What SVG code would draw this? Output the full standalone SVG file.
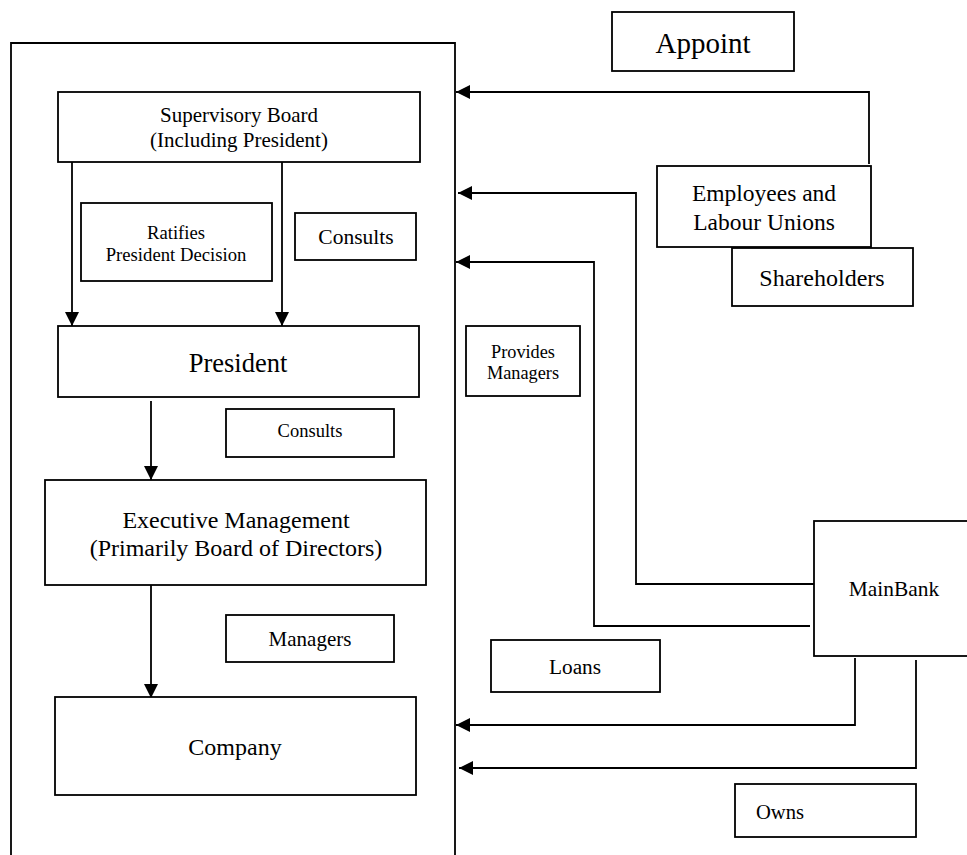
<svg xmlns="http://www.w3.org/2000/svg" width="967" height="855" viewBox="0 0 967 855">
  <style>
    .box { fill: #fff; stroke: #000; stroke-width: 1.8; }
    .frame { fill: none; stroke: #000; stroke-width: 1.8; }
    .line { fill: none; stroke: #000; stroke-width: 1.8; }
    text { font-family: "Liberation Serif", "Times New Roman", serif; fill: #000; text-anchor: middle; dominant-baseline: central; }
  </style>
  <defs>
    <marker id="arrow" viewBox="0 0 14 14" refX="14" refY="7" markerWidth="14" markerHeight="14" markerUnits="userSpaceOnUse" orient="auto">
      <path d="M0,0 L14,7 L0,14 Z" fill="#000"/>
    </marker>
  </defs>
  <rect width="967" height="855" fill="#fff"/>

  <!-- Outer corporate frame (open at bottom edge) -->
  <path class="frame" d="M11,870 V43 H455 V870"/>

  <g id="connectors">
    <line class="line" x1="72" y1="162" x2="72" y2="326" marker-end="url(#arrow)"/>
    <line class="line" x1="282" y1="162" x2="282" y2="326" marker-end="url(#arrow)"/>
    <line class="line" x1="151" y1="401" x2="151" y2="480" marker-end="url(#arrow)"/>
    <line class="line" x1="151" y1="585" x2="151" y2="698" marker-end="url(#arrow)"/>
    <polyline class="line" points="869,164 869,92 456,92" marker-end="url(#arrow)"/>
    <polyline class="line" points="816,584 636,584 636,193 458,193" marker-end="url(#arrow)"/>
    <polyline class="line" points="810,626 594,626 594,262 456,262" marker-end="url(#arrow)"/>
    <polyline class="line" points="855,658 855,725 456,725" marker-end="url(#arrow)"/>
    <polyline class="line" points="916,660 916,768 459,768" marker-end="url(#arrow)"/>
  </g>

  <g id="supervisory-board">
    <rect class="box" x="58" y="92" width="362" height="70"/>
    <text x="239" y="115" font-size="21">Supervisory Board</text>
    <text x="239" y="140" font-size="21">(Including President)</text>
  </g>
  <g id="ratifies">
    <rect class="box" x="81" y="203" width="191" height="78"/>
    <text x="176" y="232" font-size="18.7">Ratifies</text>
    <text x="176" y="254" font-size="18.7">President Decision</text>
  </g>
  <g id="consults-board">
    <rect class="box" x="295" y="213" width="121" height="47"/>
    <text x="356" y="237" font-size="21.5">Consults</text>
  </g>
  <g id="president">
    <rect class="box" x="58" y="326" width="361" height="71"/>
    <text x="238" y="363" font-size="26.5">President</text>
  </g>
  <g id="consults-president">
    <rect class="box" x="226" y="409" width="168" height="48"/>
    <text x="310" y="431" font-size="18.5">Consults</text>
  </g>
  <g id="executive-management">
    <rect class="box" x="45" y="480" width="381" height="105"/>
    <text x="236" y="520" font-size="24">Executive Management</text>
    <text x="236" y="548" font-size="24">(Primarily Board of Directors)</text>
  </g>
  <g id="managers">
    <rect class="box" x="226" y="615" width="168" height="47"/>
    <text x="310" y="639" font-size="21">Managers</text>
  </g>
  <g id="company">
    <rect class="box" x="55" y="697" width="361" height="98"/>
    <text x="235" y="747" font-size="24">Company</text>
  </g>

  <g id="appoint">
    <rect class="box" x="612" y="12" width="182" height="59"/>
    <text x="703" y="43" font-size="29">Appoint</text>
  </g>
  <g id="employees">
    <rect class="box" x="657" y="166" width="214" height="81"/>
    <text x="764" y="193" font-size="23.5">Employees and</text>
    <text x="764" y="222" font-size="23.5">Labour Unions</text>
  </g>
  <g id="shareholders">
    <rect class="box" x="732" y="248" width="181" height="58"/>
    <text x="822" y="278" font-size="24">Shareholders</text>
  </g>
  <g id="provides-managers">
    <rect class="box" x="466" y="326" width="114" height="70"/>
    <text x="523" y="352" font-size="18.3">Provides</text>
    <text x="523" y="373" font-size="18.3">Managers</text>
  </g>
  <g id="mainbank">
    <rect class="box" x="814" y="521" width="170" height="135"/>
    <text x="894" y="589" font-size="21.4">MainBank</text>
  </g>
  <g id="loans">
    <rect class="box" x="491" y="640" width="169" height="52"/>
    <text x="575" y="667" font-size="21.3">Loans</text>
  </g>
  <g id="owns">
    <rect class="box" x="735" y="784" width="181" height="53"/>
    <text x="780" y="812" font-size="20.6">Owns</text>
  </g>
</svg>
